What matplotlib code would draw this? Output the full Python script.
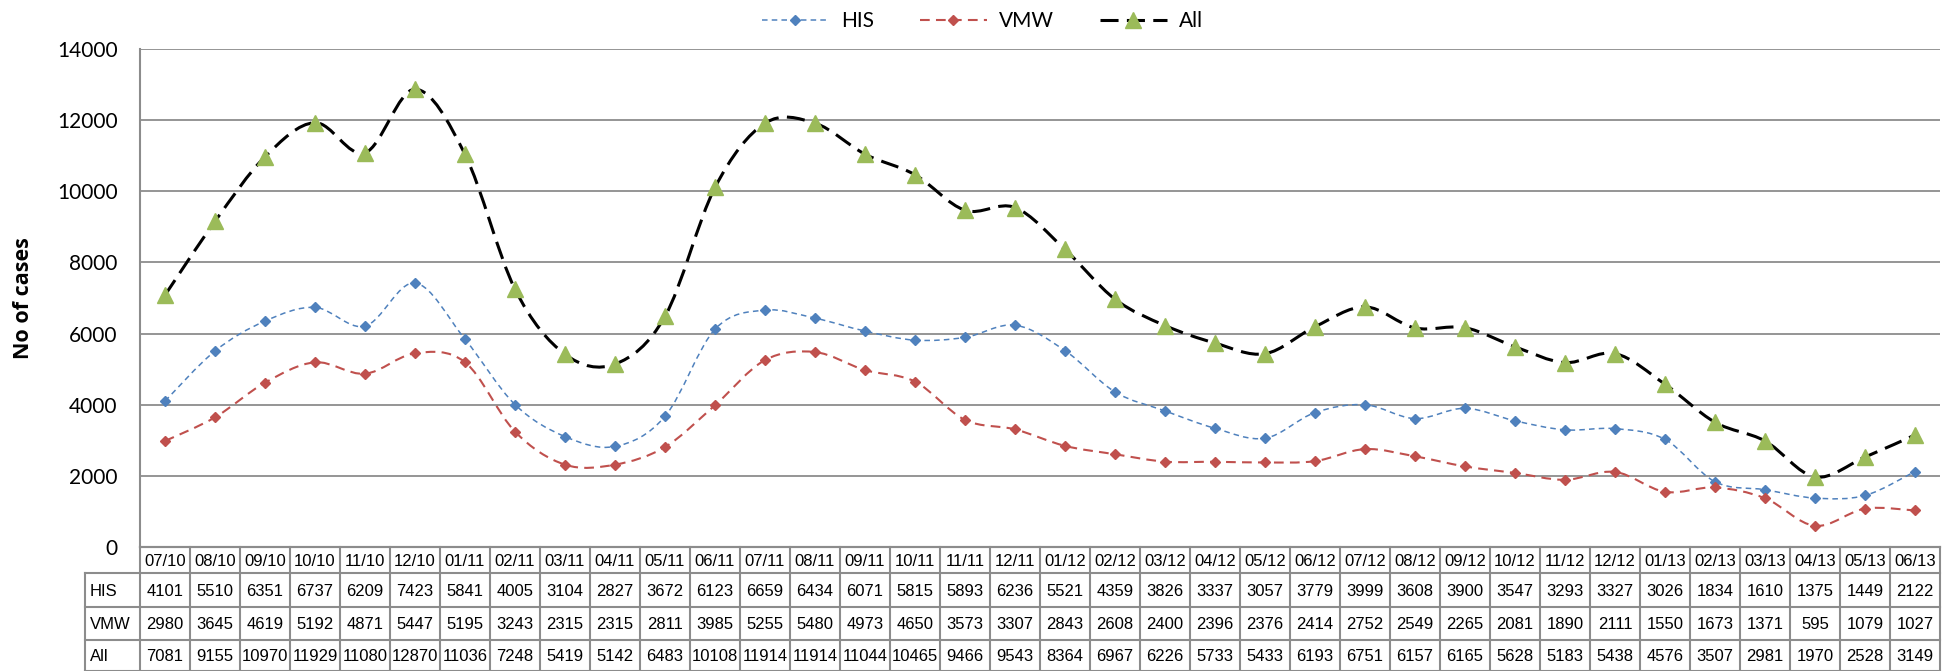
import numpy as np
import matplotlib.pyplot as plt
from matplotlib.path import Path
from matplotlib.patches import PathPatch
from matplotlib.lines import Line2D

plt.rcParams['lines.scale_dashes'] = False

months = ['07/10', '08/10', '09/10', '10/10', '11/10', '12/10', '01/11', '02/11', '03/11',
          '04/11', '05/11', '06/11', '07/11', '08/11', '09/11', '10/11', '11/11', '12/11',
          '01/12', '02/12', '03/12', '04/12', '05/12', '06/12', '07/12', '08/12', '09/12',
          '10/12', '11/12', '12/12', '01/13', '02/13', '03/13', '04/13', '05/13', '06/13']
his = [4101, 5510, 6351, 6737, 6209, 7423, 5841, 4005, 3104, 2827, 3672, 6123, 6659, 6434,
       6071, 5815, 5893, 6236, 5521, 4359, 3826, 3337, 3057, 3779, 3999, 3608, 3900, 3547,
       3293, 3327, 3026, 1834, 1610, 1375, 1449, 2122]
vmw = [2980, 3645, 4619, 5192, 4871, 5447, 5195, 3243, 2315, 2315, 2811, 3985, 5255, 5480,
       4973, 4650, 3573, 3307, 2843, 2608, 2400, 2396, 2376, 2414, 2752, 2549, 2265, 2081,
       1890, 2111, 1550, 1673, 1371, 595, 1079, 1027]
all_cases = [7081, 9155, 10970, 11929, 11080, 12870, 11036, 7248, 5419, 5142, 6483, 10108,
             11914, 11914, 11044, 10465, 9466, 9543, 8364, 6967, 6226, 5733, 5433, 6193,
             6751, 6157, 6165, 5628, 5183, 5438, 4576, 3507, 2981, 1970, 2528, 3149]
row_names = ['HIS', 'VMW', 'All']

W, H = 1942, 671
fig = plt.figure(figsize=(W / 100, H / 100), dpi=100)
ax = fig.add_axes([140 / W, (H - 547) / H, 1800 / W, 498 / H])

x = np.arange(len(months))
ax.set_xlim(-0.5, len(months) - 0.5)
ax.set_ylim(0, 14000)
ax.set_yticks(range(0, 14001, 2000))
ax.set_xticks([])
ax.grid(axis='y', color='#8c8c8c', lw=1.3)
ax.set_axisbelow(True)
for s in ['top', 'right']:
    ax.spines[s].set_visible(False)
for s in ['left', 'bottom']:
    ax.spines[s].set_color('#8c8c8c')
    ax.spines[s].set_linewidth(1.5)
ax.tick_params(axis='y', length=0, pad=16, labelsize=15)
for t in ax.get_yticklabels():
    t.set_fontfamily('Lato')
ax.set_ylabel('No of cases', fontsize=15.5, fontweight='bold', family='Open Sans')
ax.yaxis.set_label_coords((34 - 140) / 1800, 0.5)


def smooth_path(xs, ys):
    pts = np.column_stack([xs, ys]).astype(float)
    n = len(pts)
    verts = [pts[0]]
    codes = [Path.MOVETO]
    for i in range(n - 1):
        p0 = pts[i - 1] if i > 0 else pts[i]
        p3 = pts[i + 2] if i + 2 < n else pts[i + 1]
        c1 = pts[i] + (pts[i + 1] - p0) / 6
        c2 = pts[i + 1] - (p3 - pts[i]) / 6
        verts += [c1, c2, pts[i + 1]]
        codes += [Path.CURVE4] * 3
    return Path(verts, codes)


styles = [
    (his, '#4F81BD', 1.1, (0, (4, 3)), 'D', 5, 'HIS'),
    (vmw, '#C0504D', 1.5, (0, (7, 4.5)), 'D', 5.5, 'VMW'),
    (all_cases, '#000000', 2.2, (0, (13, 6)), '^', 11, 'All'),
]
handles = []
for ys, col, lw, ls, mk, ms, name in styles:
    patch = PathPatch(smooth_path(x, ys), fill=False, edgecolor=col, lw=lw, linestyle=ls, zorder=3)
    ax.add_patch(patch)
    mcol = '#9BBB59' if name == 'All' else col
    ax.plot(x, ys, linestyle='none', marker=mk, markersize=ms, color=mcol, zorder=4)
    handles.append(Line2D([], [], color=col, lw=lw, linestyle=ls, marker=mk,
                          markersize=ms, markerfacecolor=mcol, markeredgecolor=mcol, label=name))

fig.legend(handles=handles, loc='center', bbox_to_anchor=(0.506, 0.968), ncol=3, frameon=False,
           prop={'family': 'Lato', 'size': 15}, handlelength=3.2, columnspacing=2.2,
           handletextpad=0.6)

# data table below the axis
tf = fig.transFigure
grid_col = '#8c8c8c'
row_tops = [547, 573, 607, 640, 671]
left_lab = 85
col_edges = [140 + 50 * i for i in range(len(months) + 1)]


def fx(px):
    return px / W


def fy(py):
    return (H - py) / H


tbl_font = dict(family='Liberation Sans', size=12)
# header
for i, m in enumerate(months):
    cx = (col_edges[i] + col_edges[i + 1]) / 2
    fig.text(fx(cx), fy((row_tops[0] + row_tops[1]) / 2 + 1), m, ha='center', va='center', **tbl_font)
data_rows = [his, vmw, all_cases]
for r, (name, vals) in enumerate(zip(row_names, data_rows)):
    cy = (row_tops[r + 1] + row_tops[r + 2]) / 2 + 1
    fig.text(fx(left_lab + 5), fy(cy), name, ha='left', va='center', **tbl_font)
    for i, v in enumerate(vals):
        cx = (col_edges[i] + col_edges[i + 1]) / 2
        fig.text(fx(cx), fy(cy), str(v), ha='center', va='center', **tbl_font)

# borders
for ce in col_edges:
    fig.add_artist(Line2D([fx(ce), fx(ce)], [fy(547), fy(671)], color=grid_col, lw=1.5, transform=tf))
fig.add_artist(Line2D([fx(left_lab), fx(left_lab)], [fy(573), fy(671)], color=grid_col, lw=1.5, transform=tf))
for k, rt in enumerate(row_tops):
    x0 = col_edges[0] if k == 0 else left_lab
    fig.add_artist(Line2D([fx(x0), fx(col_edges[-1])], [fy(rt), fy(rt)], color=grid_col, lw=1.5, transform=tf))

fig.savefig('out.png', dpi=100)
